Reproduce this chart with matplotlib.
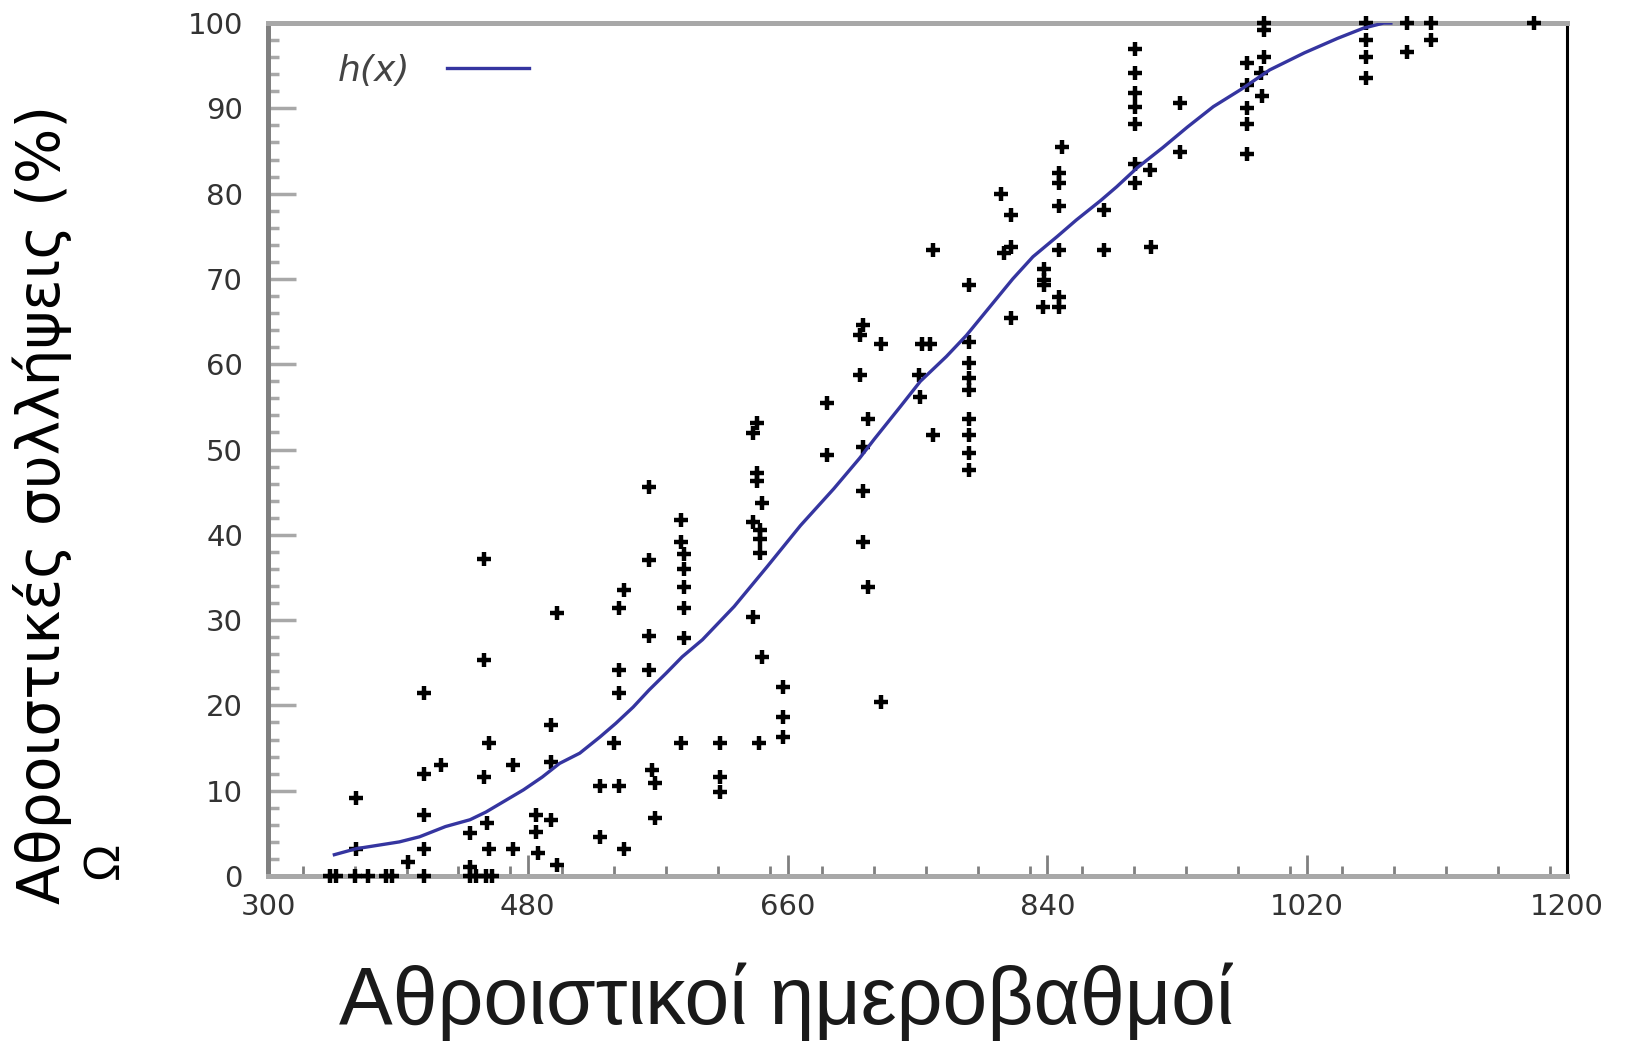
import matplotlib
matplotlib.use("Agg")
import matplotlib.pyplot as plt
from matplotlib.ticker import MultipleLocator

# Αθροιστικοί ημεροβαθμοί / αθροιστικές συλλήψεις (%)
obs_x = [343, 347, 360, 369, 382, 386, 408, 440, 444, 451, 455,
         361, 361, 397, 408, 408, 408, 408, 420, 440, 440, 450, 450, 450,
         452, 453, 453, 470, 470, 486, 486, 487, 496, 496, 496, 500, 500,
         530, 530, 543, 543, 543, 543, 540, 547, 547, 564, 564, 564, 564,
         566, 568, 568, 586, 586, 588, 588, 588, 588, 588, 586,
         613, 613, 613, 636, 639, 639, 639, 642, 636, 641, 641, 641, 636,
         642, 640, 657, 657, 657,
         687, 687, 712, 710, 710, 716, 712, 712, 712, 716, 725, 725,
         751, 752, 753, 759, 761, 761,
         786, 786, 786, 786, 786, 786, 786, 786, 786,
         808, 815, 815, 810, 815, 838, 838, 838, 837, 848, 848, 850, 848,
         848, 848, 848, 879, 879,
         901, 901, 901, 901, 901, 901, 901, 911, 912, 932, 932,
         978, 988, 978, 989, 978, 978, 978, 990, 990, 990,
         1061, 1061, 1061, 1061, 1089, 1089, 1106, 1106, 1177]
obs_y = [0, 0, 0, 0, 0, 0, 0, 0, 0, 0, 0,
         9.1, 3.2, 1.7, 21.4, 12.0, 7.2, 3.2, 13.0, 5.0, 1.1, 37.2, 25.3, 11.6,
         6.2, 15.6, 3.2, 13.0, 3.2, 7.2, 5.2, 2.7, 17.7, 13.4, 6.6, 30.8, 1.3,
         10.5, 4.6, 31.4, 24.2, 21.4, 10.5, 15.6, 33.5, 3.2, 45.6, 37.0, 28.1, 24.2,
         12.4, 10.9, 6.8, 41.7, 39.2, 37.8, 36.0, 33.9, 31.4, 27.9, 15.6,
         15.6, 11.6, 9.8, 51.9, 53.1, 47.2, 46.3, 43.7, 41.5, 40.6, 39.5, 37.9, 30.4,
         25.7, 15.6, 22.2, 18.7, 16.3,
         55.4, 49.4, 64.6, 63.4, 58.7, 53.6, 50.3, 45.1, 39.2, 33.9, 62.4, 20.4,
         58.7, 56.2, 62.4, 62.4, 73.4, 51.7,
         69.3, 62.6, 60.1, 58.4, 57.0, 53.6, 51.7, 49.6, 47.6,
         80.0, 77.5, 73.8, 73.0, 65.4, 71.2, 69.9, 69.3, 66.7, 67.9, 66.7, 85.5, 82.4,
         81.2, 78.5, 73.4, 78.1, 73.4,
         97.0, 94.1, 91.8, 90.2, 88.2, 83.5, 81.2, 82.8, 73.8, 90.6, 84.9,
         95.3, 94.1, 92.7, 91.4, 90.0, 88.2, 84.7, 100, 99.2, 96.0,
         100, 98.0, 96.0, 93.5, 100, 96.6, 100, 98.0, 100]

# h(x)
hx_x = [346, 361, 391, 405, 423, 440, 451, 465, 477, 490, 502, 516, 530, 541,
        553, 564, 576, 587, 601, 623, 646, 669, 692, 710, 720, 738, 752, 770,
        784, 800, 816, 830, 847, 860, 877, 888, 902, 920, 937, 955, 974, 994,
        1018, 1041, 1059, 1073, 1078]
hx_y = [2.5, 3.2, 4.0, 4.6, 5.8, 6.6, 7.5, 8.9, 10.1, 11.6, 13.2, 14.4, 16.3,
        17.9, 19.8, 21.8, 23.8, 25.7, 27.7, 31.6, 36.3, 41.1, 45.4, 49.0, 51.2,
        55.0, 58.0, 60.9, 63.4, 66.7, 70.0, 72.6, 75.0, 76.9, 79.2, 80.8, 83.0,
        85.4, 87.8, 90.2, 92.2, 94.5, 96.5, 98.2, 99.4, 100, 100]

x_ticks = [300, 480, 660, 840, 1020, 1200]
y_ticks = list(range(0, 101, 10))

fig = plt.figure(figsize=(16.42, 10.47), dpi=100)
ax = fig.add_axes([0.1632, 0.1633, 0.7911, 0.8147])

ax.plot(obs_x, obs_y, linestyle='none', marker='+', markersize=10,
        markeredgewidth=3.2, color='black', clip_on=False, zorder=3)
ax.plot(hx_x, hx_y, color='#3535a0', linewidth=2.4, label='h(x)', zorder=4)

ax.set_xlim(300, 1200)
ax.set_ylim(0, 100)
ax.xaxis.set_minor_locator(MultipleLocator(36))
ax.yaxis.set_minor_locator(MultipleLocator(2))
ax.set_xticks(x_ticks)
ax.set_yticks(y_ticks)
ax.set_xticklabels([str(v) for v in x_ticks])
ax.set_yticklabels([str(v) for v in y_ticks])

ax.tick_params(axis='y', which='major', direction='in', length=20, width=2.5,
               color='#a8a8a8', pad=18, labelsize=21, labelcolor='#333333')
ax.tick_params(axis='y', which='minor', direction='in', length=8, width=2.5,
               color='#a8a8a8')
ax.tick_params(axis='x', which='major', direction='in', length=15, width=2,
               color='#808080', pad=12.5, labelsize=21, labelcolor='#333333')
ax.tick_params(axis='x', which='minor', direction='in', length=7, width=2,
               color='#808080')

ax.spines['left'].set_color('#808080')
ax.spines['left'].set_linewidth(3.6)
ax.spines['bottom'].set_color('#a8a8a8')
ax.spines['bottom'].set_linewidth(3.6)
ax.spines['top'].set_color('#a8a8a8')
ax.spines['top'].set_linewidth(3.6)
ax.spines['right'].set_color('black')
ax.spines['right'].set_linewidth(2.2)

leg = ax.legend(loc='upper left', bbox_to_anchor=(0.054, 0.964), frameon=False,
                markerfirst=False, handlelength=2.28, handletextpad=1.0,
                borderaxespad=0, borderpad=0,
                prop={'style': 'italic', 'size': 26})
for t in leg.get_texts():
    t.set_color('#444444')

fig.text(0.0256, 0.518, 'Αθροιστικές συλλήψεις (%)', rotation=90,
         ha='center', va='center', fontsize=42, family=['DejaVu Sans'])
fig.text(0.064, 0.178, 'Ω', rotation=90, ha='center', va='center',
         fontsize=36, family=['Liberation Sans', 'DejaVu Sans'])
fig.text(0.479, 0.043, 'Αθροιστικοί ημεροβαθμοί', ha='center', va='center',
         fontsize=58, family=['Liberation Sans Narrow', 'Liberation Sans', 'DejaVu Sans'],
         color='#1a1a1a')

fig.savefig('out.png', dpi=100)
